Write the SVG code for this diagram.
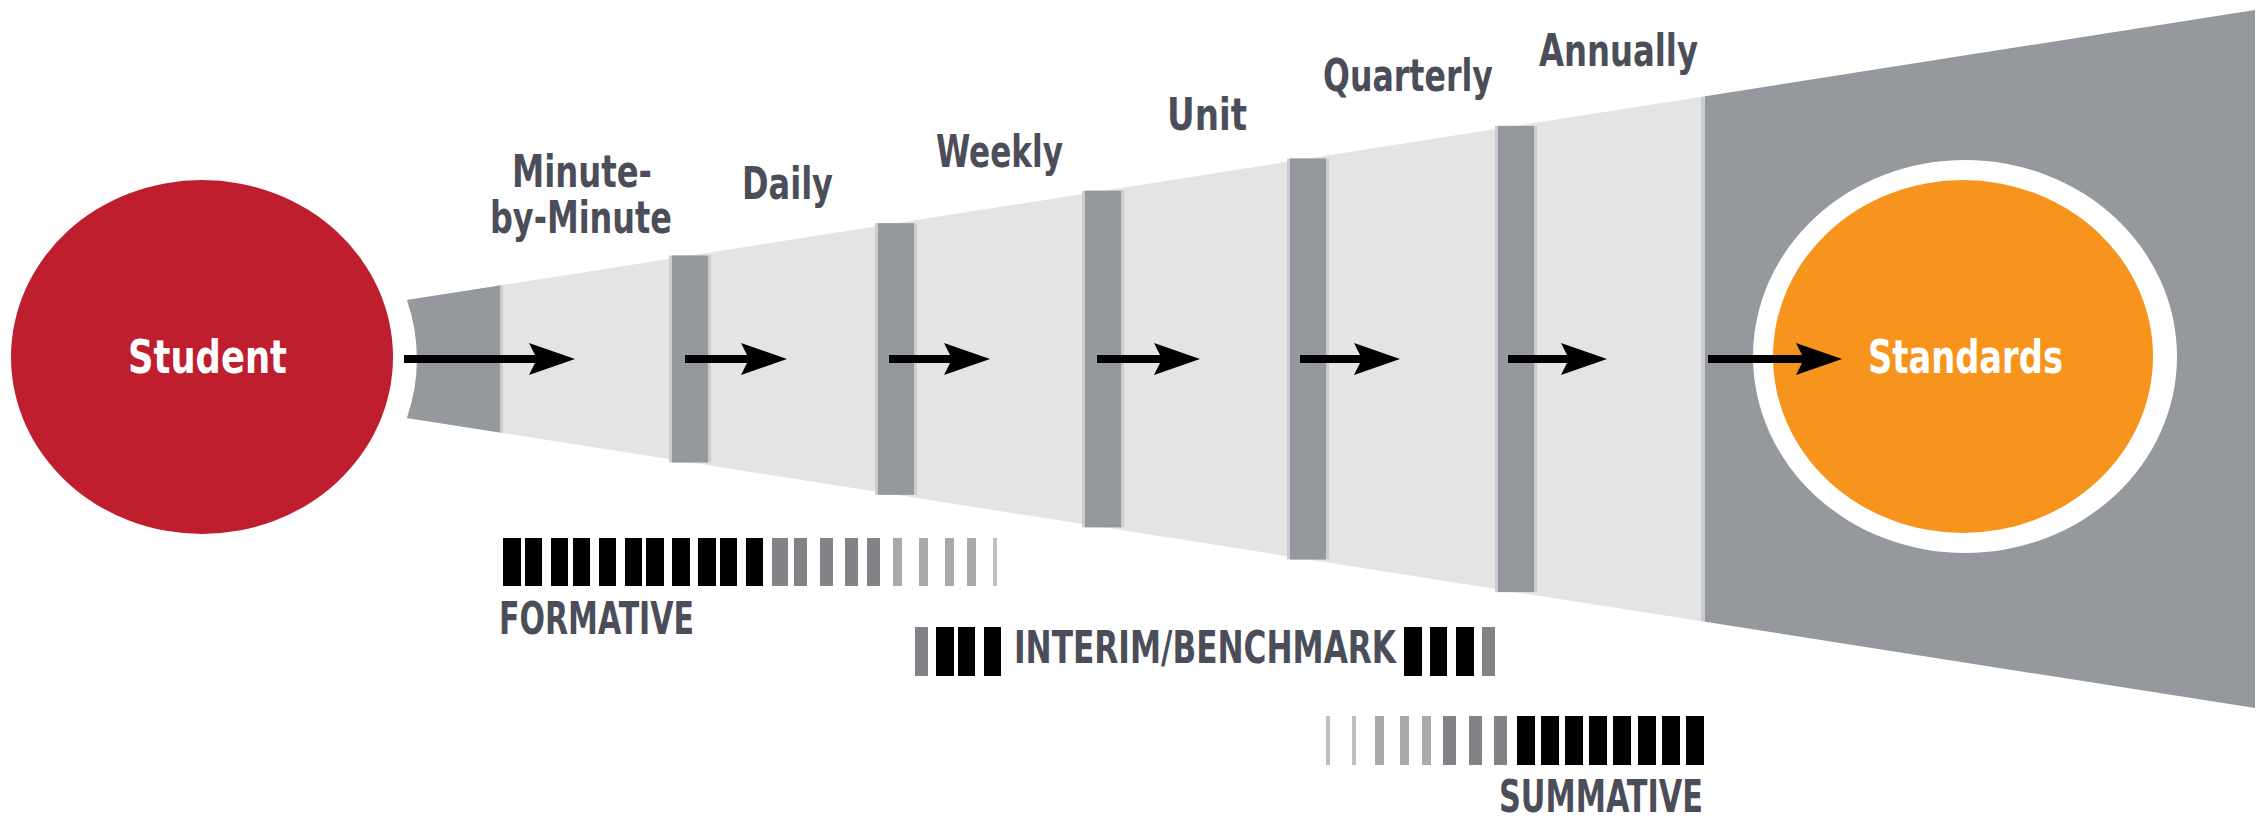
<svg xmlns="http://www.w3.org/2000/svg" width="2265" height="822" viewBox="0 0 2265 822">
  <style>
    .lbl { font-family: "Liberation Sans Narrow", "DejaVu Sans Condensed", "Liberation Sans", sans-serif; font-weight: bold; font-size: 44px; fill: #4b4e58; }
    .nodetxt { font-family: "Liberation Sans Narrow", "DejaVu Sans Condensed", "Liberation Sans", sans-serif; font-weight: bold; font-size: 46px; fill: #ffffff; }
    .dark { fill: #95989d; }
    .light { fill: #e4e4e4; }
    .edge { fill: #cbcccf; }
    .shaft { stroke: #000000; stroke-width: 8; fill: none; }
    .k { fill: #000000; }
    .g1 { fill: #838387; }
    .g2 { fill: #a9a9ac; }
    .g3 { fill: #bfbfc1; }
  </style>
  <defs>
    <marker id="head" markerUnits="userSpaceOnUse" markerWidth="50" markerHeight="36" refX="26" refY="18" orient="auto">
      <path d="M0,2 L46,18 L0,34 L8,18 Z" fill="#000000"/>
    </marker>
  </defs>

  <rect width="2265" height="822" fill="#ffffff"/>

  <!-- widening funnel of assessment intervals -->
  <g id="funnel">
    <polygon class="light" points="500,285.4 1705,96.2 1705,621.8 500,432.6"/>
    <path class="edge" d="M407,300 L503,284.9 L503,433.1 L407,418 Q427,359 407,300 Z"/>
    <path class="dark" d="M407,300 L500,285.4 L500,432.6 L407,418 Q427,359 407,300 Z"/>
    <rect class="edge" x="669" y="255.5" width="42" height="207"/>
    <rect class="dark" x="672" y="255.5" width="36" height="207"/>
    <rect class="edge" x="875" y="223.2" width="42" height="271.6"/>
    <rect class="dark" x="878" y="223.2" width="36" height="271.6"/>
    <rect class="edge" x="1082" y="190.7" width="42" height="336.6"/>
    <rect class="dark" x="1085" y="190.7" width="36" height="336.6"/>
    <rect class="edge" x="1287" y="158.5" width="42" height="401"/>
    <rect class="dark" x="1290" y="158.5" width="36" height="401"/>
    <rect class="edge" x="1495" y="125.9" width="42" height="466.2"/>
    <rect class="dark" x="1498" y="125.9" width="36" height="466.2"/>
    <rect class="edge" x="1701" y="96.8" width="4" height="524.4"/>
    <polygon class="dark" points="1705,96.2 2255,9.9 2255,708.1 1705,621.8"/>
  </g>

  <g id="node-student">
    <ellipse cx="202" cy="357" rx="191" ry="177" fill="#be1e2d"/>
    <text class="nodetxt" x="128" y="373" textLength="159" lengthAdjust="spacingAndGlyphs">Student</text>
  </g>

  <g id="node-standards">
    <ellipse cx="1965" cy="356.5" rx="212" ry="196.5" fill="#ffffff"/>
    <ellipse cx="1963" cy="356.5" rx="190" ry="176.5" fill="#f7941d"/>
    <text class="nodetxt" x="1868" y="373" textLength="195" lengthAdjust="spacingAndGlyphs">Standards</text>
  </g>

  <g id="connectors">
    <line class="shaft" x1="404" y1="359" x2="555" y2="359" marker-end="url(#head)"/>
    <line class="shaft" x1="685" y1="359" x2="767" y2="359" marker-end="url(#head)"/>
    <line class="shaft" x1="889" y1="359" x2="970" y2="359" marker-end="url(#head)"/>
    <line class="shaft" x1="1097" y1="359" x2="1180" y2="359" marker-end="url(#head)"/>
    <line class="shaft" x1="1300" y1="359" x2="1380" y2="359" marker-end="url(#head)"/>
    <line class="shaft" x1="1508" y1="359" x2="1587" y2="359" marker-end="url(#head)"/>
    <line class="shaft" x1="1708" y1="359" x2="1822" y2="359" marker-end="url(#head)"/>
  </g>

  <!-- interval labels above the funnel -->
  <g id="interval-labels">
    <text class="lbl" x="512" y="187" textLength="140" lengthAdjust="spacingAndGlyphs">Minute-</text>
    <text class="lbl" x="490" y="233" textLength="182" lengthAdjust="spacingAndGlyphs">by-Minute</text>
    <text class="lbl" x="742" y="199" textLength="91" lengthAdjust="spacingAndGlyphs">Daily</text>
    <text class="lbl" x="936" y="167" textLength="127" lengthAdjust="spacingAndGlyphs">Weekly</text>
    <text class="lbl" x="1167" y="130" textLength="80" lengthAdjust="spacingAndGlyphs">Unit</text>
    <text class="lbl" x="1323" y="91" textLength="170" lengthAdjust="spacingAndGlyphs">Quarterly</text>
    <text class="lbl" x="1539" y="66" textLength="159" lengthAdjust="spacingAndGlyphs">Annually</text>
  </g>

  <!-- formative scale -->
  <g id="formative">
    <rect class="k" x="503" y="538" width="18" height="48"/>
    <rect class="k" x="525" y="538" width="17" height="48"/>
    <rect class="k" x="551" y="538" width="17" height="48"/>
    <rect class="k" x="573" y="538" width="17" height="48"/>
    <rect class="k" x="599" y="538" width="17" height="48"/>
    <rect class="k" x="625" y="538" width="17" height="48"/>
    <rect class="k" x="646" y="538" width="18" height="48"/>
    <rect class="k" x="672" y="538" width="18" height="48"/>
    <rect class="k" x="698" y="538" width="18" height="48"/>
    <rect class="k" x="720" y="538" width="17" height="48"/>
    <rect class="k" x="746" y="538" width="17" height="48"/>
    <rect class="g1" x="772" y="538" width="16" height="48"/>
    <rect class="g1" x="794" y="538" width="13" height="48"/>
    <rect class="g1" x="820" y="538" width="13" height="48"/>
    <rect class="g1" x="845" y="538" width="13" height="48"/>
    <rect class="g1" x="867" y="538" width="13" height="48"/>
    <rect class="g2" x="893" y="538" width="9" height="48"/>
    <rect class="g2" x="919" y="538" width="9" height="48"/>
    <rect class="g2" x="945" y="538" width="9" height="48"/>
    <rect class="g2" x="967" y="538" width="9" height="48"/>
    <rect class="g3" x="993" y="538" width="4" height="48"/>
    <text class="lbl" x="499" y="634" textLength="195" lengthAdjust="spacingAndGlyphs">FORMATIVE</text>
  </g>

  <!-- interim / benchmark scale -->
  <g id="interim">
    <rect class="g1" x="915" y="627" width="13" height="49"/>
    <rect class="k" x="936" y="627" width="18" height="49"/>
    <rect class="k" x="958" y="627" width="17" height="49"/>
    <rect class="k" x="984" y="627" width="17" height="49"/>
    <text class="lbl" x="1014" y="663" textLength="382" lengthAdjust="spacingAndGlyphs">INTERIM/BENCHMARK</text>
    <rect class="k" x="1404" y="627" width="18" height="49"/>
    <rect class="k" x="1430" y="627" width="17" height="49"/>
    <rect class="k" x="1456" y="627" width="18" height="49"/>
    <rect class="g1" x="1482" y="627" width="13" height="49"/>
  </g>

  <!-- summative scale -->
  <g id="summative">
    <rect class="g3" x="1326" y="716" width="4" height="49"/>
    <rect class="g3" x="1352" y="716" width="4" height="49"/>
    <rect class="g2" x="1375" y="716" width="9" height="49"/>
    <rect class="g2" x="1400" y="716" width="9" height="49"/>
    <rect class="g2" x="1422" y="716" width="9" height="49"/>
    <rect class="g1" x="1443" y="716" width="13" height="49"/>
    <rect class="g1" x="1469" y="716" width="13" height="49"/>
    <rect class="g1" x="1494" y="716" width="13" height="49"/>
    <rect class="k" x="1517" y="716" width="18" height="49"/>
    <rect class="k" x="1541" y="716" width="18" height="49"/>
    <rect class="k" x="1565" y="716" width="18" height="49"/>
    <rect class="k" x="1589" y="716" width="18" height="49"/>
    <rect class="k" x="1613" y="716" width="18" height="49"/>
    <rect class="k" x="1638" y="716" width="18" height="49"/>
    <rect class="k" x="1662" y="716" width="18" height="49"/>
    <rect class="k" x="1686" y="716" width="18" height="49"/>
    <text class="lbl" x="1499" y="812" textLength="204" lengthAdjust="spacingAndGlyphs">SUMMATIVE</text>
  </g>
</svg>
